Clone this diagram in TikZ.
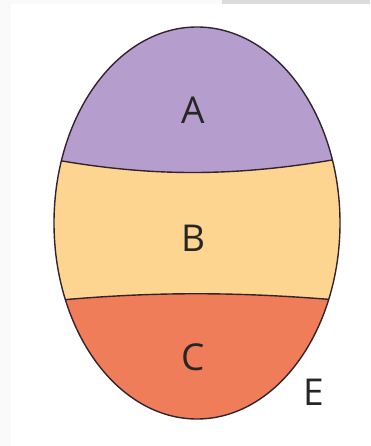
\documentclass[tikz,border=0pt]{standalone}
\usepackage{fontspec}
\setmainfont{Open Sans}
\definecolor{bandA}{RGB}{181,158,206}
\definecolor{bandB}{RGB}{253,213,145}
\definecolor{bandC}{RGB}{240,125,90}
\definecolor{edge}{RGB}{50,35,45}
\begin{document}
\begin{tikzpicture}[x=1pt,y=-1pt,
  lbl/.style={font=\fontsize{37}{40}\selectfont, text=black!85, inner sep=0pt},
  outline/.style={draw=edge, line width=1.4pt}]
\useasboundingbox (0,0) rectangle (370,446);
\fill[white] (0,0) rectangle (370,446);
\fill[black!2] (0,0) rectangle (370,4);
\fill[black!2] (0,0) rectangle (11,446);
\fill[black!14] (222,0) rectangle (370,4);
\begin{scope}
  \clip (197,223) ellipse [x radius=143, y radius=196];
  \fill[bandA] (40,10) rectangle (360,200);
  \fill[bandB] (40,150) -- (40,157) .. controls (150,178) and (240,178) .. (360,155) -- (360,320) -- (40,320) -- cycle;
  \fill[bandC] (40,302) .. controls (150,291) and (240,291) .. (360,302) -- (360,440) -- (40,440) -- cycle;
  \draw[outline] (40,157) .. controls (150,178) and (240,178) .. (360,155);
  \draw[outline] (40,302) .. controls (150,291) and (240,291) .. (360,302);
\end{scope}
\draw[outline] (197,223) ellipse [x radius=143, y radius=196];
\node[lbl] (A) at (193,110) {A};
\node[lbl] (B) at (193,238) {B};
\node[lbl] (C) at (193,357) {C};
\node[lbl] (E) at (314,392) {E};
\end{tikzpicture}
\end{document}
